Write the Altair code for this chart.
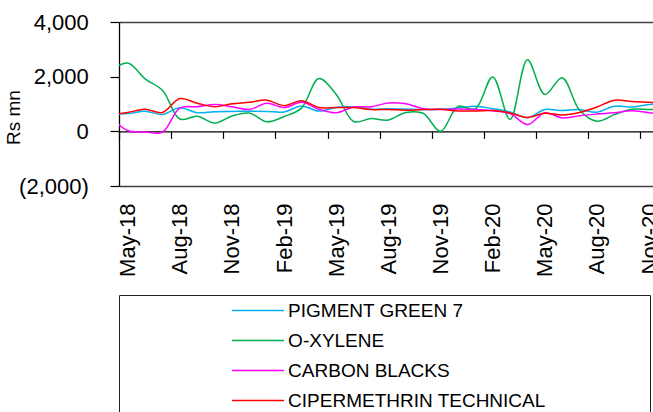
import altair as alt
import pandas as pd

# Monthly series, Apr-18 .. Dec-20 (index -1 .. 31, May-18 = 0)
months = [
    "Apr-18", "May-18", "Jun-18", "Jul-18", "Aug-18", "Sep-18", "Oct-18", "Nov-18",
    "Dec-18", "Jan-19", "Feb-19", "Mar-19", "Apr-19", "May-19", "Jun-19", "Jul-19",
    "Aug-19", "Sep-19", "Oct-19", "Nov-19", "Dec-19", "Jan-20", "Feb-20", "Mar-20",
    "Apr-20", "May-20", "Jun-20", "Jul-20", "Aug-20", "Sep-20", "Oct-20", "Nov-20",
    "Dec-20",
]

pigment_green_7 = [640, 650, 735, 620, 860, 680, 720, 730, 735, 730, 710, 930, 740, 870,
                   890, 805, 830, 815, 800, 805, 855, 920, 830, 710, 500, 795, 760, 795,
                   700, 920, 890, 980, 1000]
o_xylene = [2200, 2500, 1920, 1500, 450, 550, 300, 560, 670, 350, 540, 850, 1930, 1350,
            360, 465, 415, 690, 660, 0, 910, 820, 1990, 435, 2620, 1350, 1960, 770,
            370, 610, 810, 800, 780]
carbon_blacks = [550, 30, -25, -25, 850, 900, 980, 900, 800, 1030, 870, 1060, 810, 680,
                 890, 900, 1040, 1010, 830, 795, 815, 800, 750, 650, 250, 680, 490, 570,
                 630, 680, 750, 680, 650]
cipermethrin_technical = [600, 690, 805, 690, 1200, 1030, 900, 1010, 1060, 1140, 940, 1120,
                          870, 870, 870, 795, 800, 770, 795, 805, 745, 745, 760, 670, 510,
                          660, 600, 690, 890, 1140, 1090, 1060, 1060]

series_names = ["PIGMENT GREEN 7", "O-XYLENE", "CARBON BLACKS", "CIPERMETHRIN TECHNICAL"]
series_values = [pigment_green_7, o_xylene, carbon_blacks, cipermethrin_technical]
series_colors = ["#00B0F0", "#00B050", "#FF00FF", "#FF0000"]

tick_labels = ["May-18", "Aug-18", "Nov-18", "Feb-19", "May-19", "Aug-19",
               "Nov-19", "Feb-20", "May-20", "Aug-20", "Nov-20"]
y_ticks = [-2000, 0, 2000, 4000]

rows = []
for name, vals in zip(series_names, series_values):
    for i, (m, v) in enumerate(zip(months, vals)):
        rows.append({"idx": i - 1, "month": m, "series": name, "value": v})
df = pd.DataFrame(rows)

FONT = "Liberation Sans"
W, H = 534, 164
CAT = 17.38  # pixel width of one month
Y_MIN, Y_MAX = -2000, 4000
zero_offset = -H * (0 - Y_MIN) / (Y_MAX - Y_MIN)

label_list = "[" + ",".join(f"'{t}'" for t in tick_labels) + "]"

x_axis = alt.Axis(
    values=[-0.5 + 3 * j for j in range(len(tick_labels))],
    labelExpr=f"{label_list}[round((datum.value + 0.5) / 3)]",
    labelAngle=-90,
    labelOffset=CAT / 2,
    labelPadding=64.7,
    labelFontSize=22,
    labelFont=FONT,
    labelColor="black",
    labelFlush=False,
    labelOverlap=False,
    labelBound=False,
    offset=zero_offset,
    tickSize=7,
    tickColor="black",
    tickWidth=1.2,
    domainColor="black",
    domainWidth=1.3,
    grid=False,
    title=None,
)

y_axis = alt.Axis(
    values=y_ticks,
    labelExpr="datum.value < 0 ? '(' + format(-datum.value, ',') + ')' : format(datum.value, ',')",
    labelFontSize=22,
    labelFont=FONT,
    labelColor="black",
    labelPadding=21.7,
    tickSize=9,
    tickColor="black",
    tickWidth=1.2,
    domainColor="black",
    domainWidth=1.3,
    grid=True,
    gridColor="#404040",
    gridWidth=1.3,
    gridOpacity={"condition": {"test": "datum.value === 4000 || datum.value === -2000", "value": 1}, "value": 0},
    title="Rs mn",
    titleX=-105.7,
    titleY=95,
    titleAngle=-90,
    titleAlign="center",
    titleBaseline="middle",
)

legend = alt.Legend(
    orient="none",
    legendX=0,
    legendY=273,
    direction="vertical",
    title=" ",
    titleOrient="right",
    titlePadding=99,
    padding=5,
    strokeColor="#222222",
    fillColor="white",
    symbolType="M-2.737,0H2.737",
    symbolSize=361,
    symbolStrokeWidth=1.5,
    symbolOffset=123.5,
    labelOffset=19.6,
    labelFontSize=19,
    labelFont=FONT,
    labelColor="black",
    labelLimit=500,
    rowPadding=9,
)

chart = (
    alt.Chart(df)
    .mark_line(interpolate="catmull-rom", strokeWidth=1.5, clip=True)
    .encode(
        x=alt.X("idx:Q", scale=alt.Scale(domain=[-0.5, -0.5 + W / CAT], nice=False, zero=False), axis=x_axis),
        y=alt.Y("value:Q", scale=alt.Scale(domain=[Y_MIN, Y_MAX], nice=False, zero=False), axis=y_axis),
        color=alt.Color("series:N", scale=alt.Scale(domain=series_names, range=series_colors),
                        sort=series_names, legend=legend),
        detail="series:N",
    )
    .properties(
        width=W,
        height=H,
        autosize=alt.AutoSizeParams(type="none"),
        padding={"left": 119, "top": 22, "right": 0, "bottom": 226},
        background="white",
    )
    .configure_view(stroke=None)
    .configure_axisY(titleFont=FONT, titleFontSize=19, titleFontWeight="normal", titleColor="black")
)

chart.save("out.html", embed_options={"renderer": "svg", "actions": False})
